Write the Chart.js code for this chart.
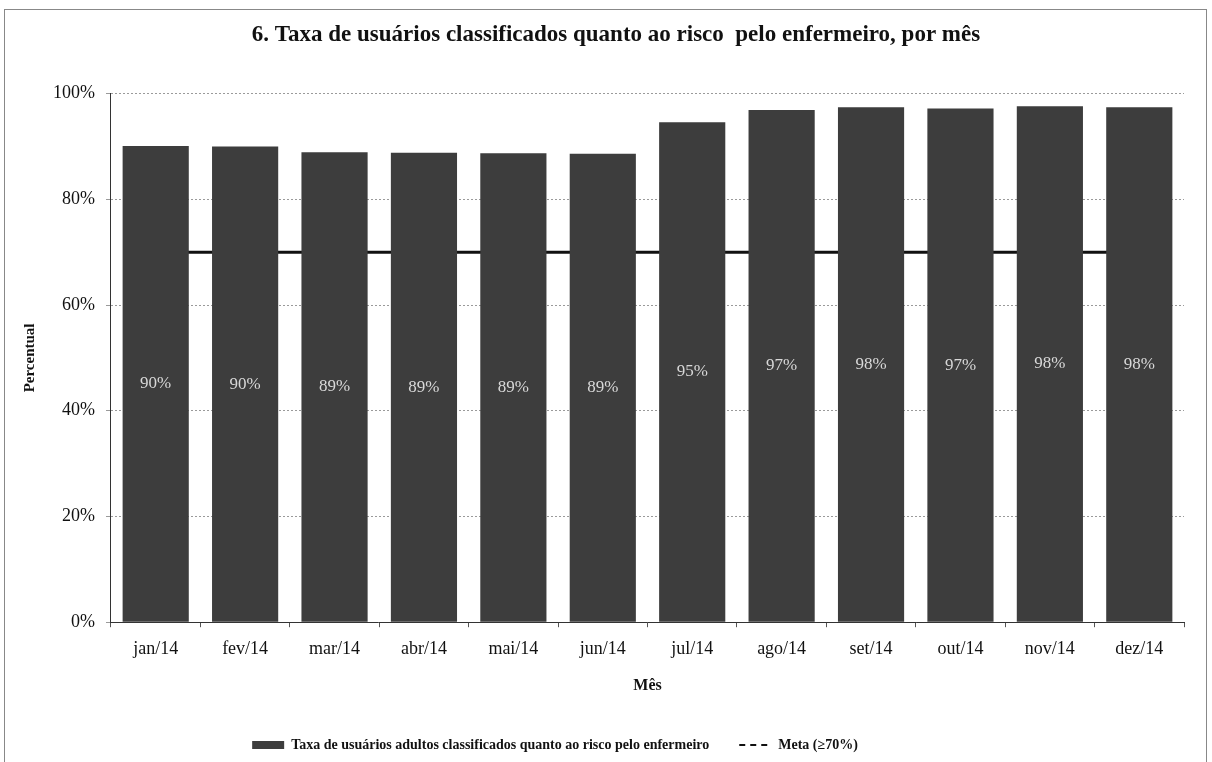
<!DOCTYPE html>
<html>
<head>
<meta charset="utf-8">
<script src="https://cdn.jsdelivr.net/npm/chart.js@4/dist/chart.umd.min.js"></script>
<style>
html,body{margin:0;padding:0;background:#fff;}
#wrap{position:absolute;left:0;top:0;width:1212px;height:762px;}
#frame{position:absolute;left:4px;top:9px;width:1203px;height:760px;border:1px solid #888;box-sizing:border-box;pointer-events:none;}
</style>
</head>
<body>
<div id="wrap"><canvas id="c" width="1212" height="762"></canvas></div>
<div id="frame"></div>
<script>
const categories = ["jan/14","fev/14","mar/14","abr/14","mai/14","jun/14","jul/14","ago/14","set/14","out/14","nov/14","dez/14"];
const taxaValues = [90.1, 90.0, 88.9, 88.8, 88.7, 88.6, 94.6, 96.9, 97.4, 97.2, 97.6, 97.4];
const taxaLabels = ["90%","90%","89%","89%","89%","89%","95%","97%","98%","97%","98%","98%"];
const metaValues = [70,70,70,70,70,70,70,70,70,70,70,70];
const yTicks = [0,20,40,60,80,100];

const serif = "'Liberation Serif', 'DejaVu Serif', serif";

const barLabelPlugin = {
  id: 'barLabels',
  afterLayout(chart) {
    if (chart.titleBlock) { chart.titleBlock.left += 38; }
    if (chart.legend) { chart.legend.left -= 84; }
  },
  afterDatasetsDraw(chart) {
    const meta = chart.getDatasetMeta(0);
    const ctx = chart.ctx;
    ctx.save();
    ctx.font = "17px " + serif;
    ctx.fillStyle = "#d8d8d8";
    ctx.textAlign = "center";
    ctx.textBaseline = "middle";
    meta.data.forEach((bar, i) => {
      const y = (bar.y + bar.base) / 2;
      ctx.fillText(taxaLabels[i], bar.x, y);
    });
    ctx.restore();
  }
};

new Chart(document.getElementById('c'), {
  data: {
    labels: categories,
    datasets: [
      {
        type: 'bar',
        label: 'Taxa de usuários adultos classificados quanto ao risco pelo enfermeiro',
        data: taxaValues,
        backgroundColor: '#3d3d3d',
        borderWidth: 0,
        categoryPercentage: 1.0,
        barPercentage: 0.74,
        order: 0
      },
      {
        type: 'line',
        label: 'Meta (≥70%)',
        data: metaValues,
        borderColor: '#111',
        borderWidth: 3,
        pointRadius: 0,
        fill: false,
        order: 1
      }
    ]
  },
  options: {
    responsive: false,
    animation: false,
    devicePixelRatio: 1,
    layout: { padding: { left: 10, right: 28, top: 10, bottom: 0 } },
    plugins: {
      title: {
        display: true,
        text: '6. Taxa de usuários classificados quanto ao risco  pelo enfermeiro, por mês',
        color: '#111',
        font: { family: serif, size: 23, weight: 'bold' },
        padding: { top: 11, bottom: 45 }
      },
      legend: {
        position: 'bottom',
        labels: {
          color: '#111',
          font: { family: serif, size: 14, weight: 'bold' },
          usePointStyle: true,
          pointStyleWidth: 32,
          boxHeight: 8,
          padding: 30,
          generateLabels(chart) {
            return [
              { text: chart.data.datasets[0].label, fillStyle: '#3d3d3d', strokeStyle: '#3d3d3d', lineWidth: 0, datasetIndex: 0, fontColor: '#111', pointStyle: 'rect' },
              { text: chart.data.datasets[1].label, fillStyle: 'rgba(0,0,0,0)', strokeStyle: '#111', lineWidth: 2, lineDash: [6,5], datasetIndex: 1, fontColor: '#111', pointStyle: 'line' }
            ];
          }
        }
      },
      tooltip: { enabled: false }
    },
    scales: {
      x: {
        offset: true,
        grid: { display: true, drawOnChartArea: false, drawTicks: true, tickLength: 5, color: '#555', offset: true },
        border: { display: true, color: '#333', width: 1 },
        ticks: { color: '#111', font: { family: serif, size: 18 }, padding: 11 },
        title: { display: true, text: 'Mês', color: '#111', font: { family: serif, size: 16, weight: 'bold' }, padding: { top: 5, bottom: 13 } }
      },
      y: {
        min: 0,
        max: 100,
        afterBuildTicks(scale) { scale.ticks = yTicks.map(v => ({ value: v })); },
        grid: { color: '#9a9a9a', tickLength: 5, drawTicks: true },
        border: { display: true, color: '#333', width: 1, dash: [2,2] },
        ticks: { color: '#111', font: { family: serif, size: 18 }, padding: 11, callback: v => v + '%' },
        title: { display: true, text: 'Percentual', color: '#111', font: { family: serif, size: 15, weight: 'bold' }, padding: { top: 11, bottom: 3 } }
      }
    }
  },
  plugins: [barLabelPlugin]
});
</script>
</body>
</html>
